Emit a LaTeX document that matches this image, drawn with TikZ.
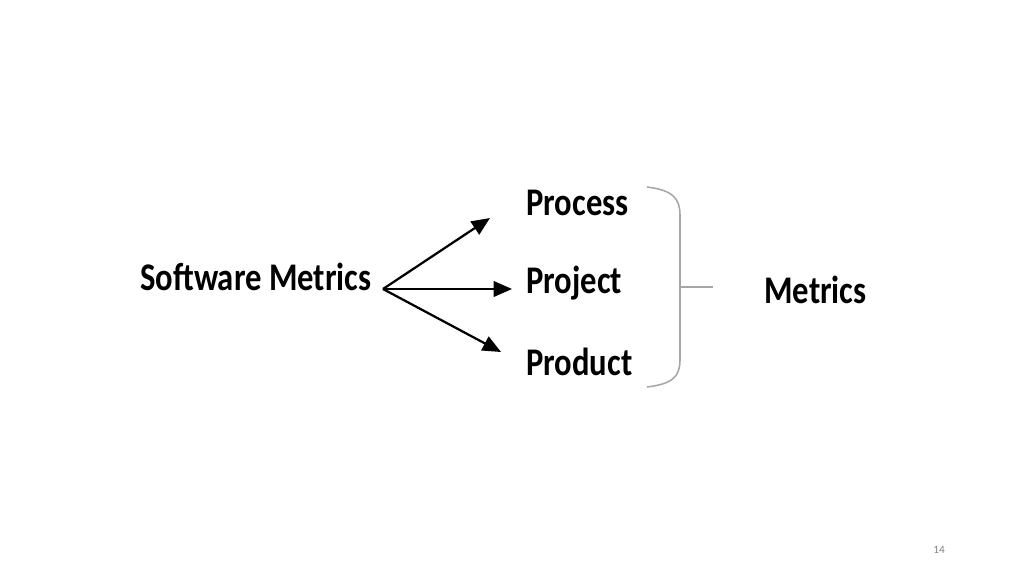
\documentclass[tikz,border=0pt]{standalone}
\usepackage{fontspec}
\setmainfont{Carlito}
\usetikzlibrary{arrows.meta}
\definecolor{bracegray}{HTML}{A6A6A6}
\newcommand{\tallterm}[1]{\scalebox{1}[1.2]{#1}}
\tikzset{
  term/.style={font=\bfseries\fontsize{23.2}{27}\selectfont, inner sep=0pt, anchor=west},
  pointer/.style={line width=1.6pt, -{Triangle[length=13pt,width=11pt]}},
  bracket/.style={draw=bracegray, line width=1.1pt}
}
\begin{document}
\begin{tikzpicture}[x=0.025cm,y=-0.025cm]
      \useasboundingbox (0,0) rectangle (1024,576);
      \node[term] (sw) at (140,277) {\tallterm{Software Metrics}};
      \node[term] (proc) at (526,203) {\tallterm{Process}};
      \node[term] (proj) at (526,283) {\tallterm{Project}};
      \node[term] (prod) at (526,362) {\tallterm{Product}};
      \node[term] (met) at (764,290) {\tallterm{Metrics}};
      \coordinate (hub) at (383,289);
      \coordinate (tproc) at (490,218);
      \coordinate (tproj) at (512,289);
      \coordinate (tprod) at (501,352);
      \draw[pointer] (hub) -- (tproc);
      \draw[pointer] (hub) -- (tproj);
      \draw[pointer] (hub) -- (tprod);
      % brace round the three kinds
      \draw[bracket] (647,187) .. controls (672,190) and (680,198) .. (680,215) -- (680,360) .. controls (680,377) and (672,384) .. (647,387);
      \draw[bracket] (680,287) -- (713,287);
      \node[text=gray, font=\fontsize{8}{9}\selectfont] (pg) at (939,550) {14};
    \end{tikzpicture}
\end{document}
